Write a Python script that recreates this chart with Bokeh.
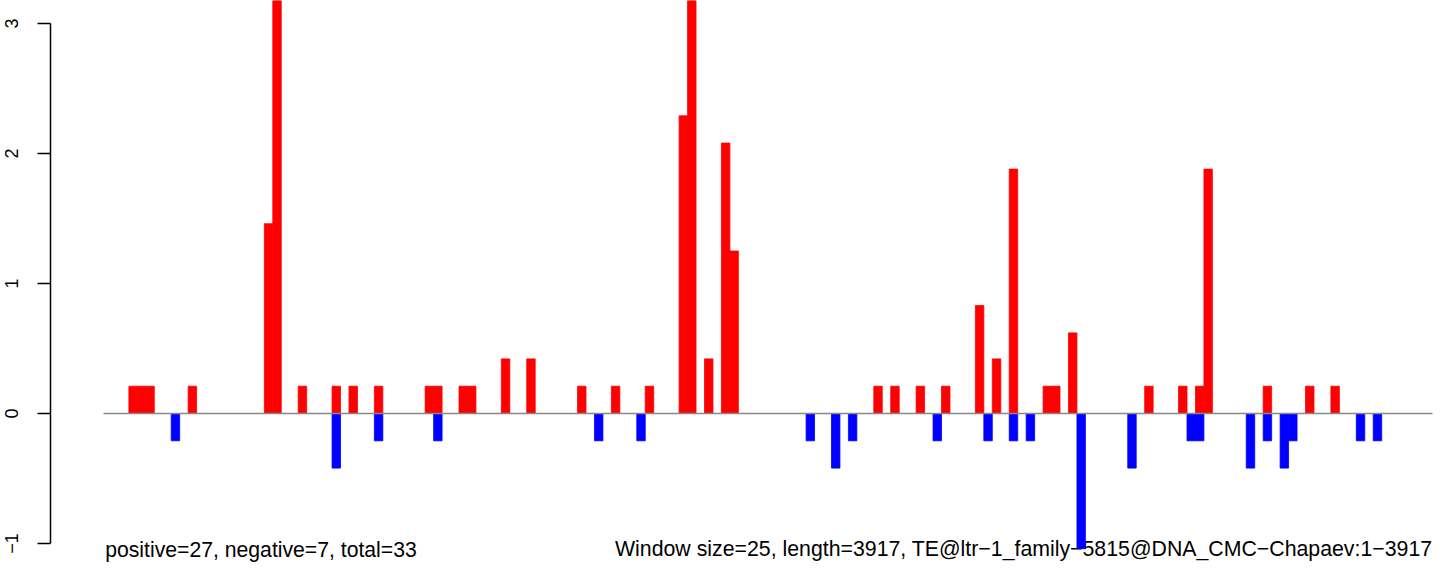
from bokeh.plotting import figure
from bokeh.models import ColumnDataSource, FixedTicker, Range1d
from bokeh.core.properties import value
from bokeh.embed import file_html
from bokeh.resources import INLINE

# window indices (window size 25 over length 3917 -> 157 windows)
n_windows = 157

pos_windows = [3, 4, 5, 10, 19, 20, 23, 27, 29, 32, 38, 39, 42, 43, 47, 50, 56, 60,
               64, 68, 69, 71, 73, 74, 91, 93, 96, 99, 103, 105, 107, 111, 112, 114,
               123, 127, 129, 130, 137, 142, 145]
pos_values = [0.21, 0.21, 0.21, 0.21, 1.46, 3.54, 0.21, 0.21, 0.21, 0.21, 0.21, 0.21,
              0.21, 0.21, 0.42, 0.42, 0.21, 0.21, 0.21, 2.29, 3.75, 0.42, 2.08, 1.25,
              0.21, 0.21, 0.21, 0.21, 0.83, 0.42, 1.88, 0.21, 0.21, 0.62, 0.21, 0.21,
              0.21, 1.88, 0.21, 0.21, 0.21]

neg_windows = [8, 27, 32, 39, 58, 63, 83, 86, 88, 98, 104, 107, 109, 115, 121, 128,
               129, 135, 137, 139, 140, 148, 150]
neg_values = [-0.21, -0.42, -0.21, -0.21, -0.21, -0.21, -0.21, -0.42, -0.21, -0.21,
              -0.21, -0.21, -0.21, -1.04, -0.42, -0.21, -0.21, -0.42, -0.21, -0.42,
              -0.21, -0.21, -0.21]

y_ticks = [-1, 0, 1, 2, 3]
left_note = "positive=27, negative=7, total=33"
right_note = "Window size=25, length=3917, TE@ltr\u22121_family\u22125815@DNA_CMC\u2212Chapaev:1\u22123917"

p = figure(width=1444, height=571, output_backend="svg", toolbar_location=None,
           x_range=Range1d(-6.261, 158.42), y_range=Range1d(-1.2154, 3.177),
           x_axis_location=None, min_border_left=50, min_border_right=0,
           min_border_top=0, min_border_bottom=0)
p.outline_line_color = None
p.xgrid.grid_line_color = None
p.ygrid.grid_line_color = None
p.background_fill_color = "white"

ax = p.yaxis[0]
ax.ticker = FixedTicker(ticks=y_ticks)
ax.bounds = (-1, 3)
ax.major_tick_in = 0
ax.major_tick_out = 13
ax.minor_tick_line_color = None
ax.axis_line_width = 1.5
ax.major_tick_line_width = 1.5
ax.axis_line_color = "black"
ax.major_tick_line_color = "black"
ax.major_label_orientation = "vertical"
ax.major_label_standoff = 19
ax.major_label_text_font = "Liberation Sans"
ax.major_label_text_font_size = "18px"
ax.major_label_text_color = "black"
ax.major_label_overrides = {-1: "\u22121"}

# notes (drawn beneath bars)
notes = ColumnDataSource(dict(x=[0.2], y=[-1.046], t=[left_note]))
p.text(x="x", y="y", text="t", source=notes, text_font=value("Liberation Sans"),
       text_font_size="21.2px", text_align="left", text_baseline="alphabetic",
       text_color="black")
notes_r = ColumnDataSource(dict(x=[n_windows], y=[-1.046], t=[right_note]))
p.text(x="x", y="y", text="t", source=notes_r, text_font=value("Liberation Sans"),
       text_font_size="21.3px", text_align="right", text_baseline="alphabetic",
       text_color="black")

pos_src = ColumnDataSource(dict(x=[w + 0.5 for w in pos_windows], top=pos_values))
neg_src = ColumnDataSource(dict(x=[w + 0.5 for w in neg_windows], top=neg_values))
p.vbar(x="x", top="top", bottom=0, width=1, source=pos_src,
       fill_color="#FF0000", line_color="#FF0000", line_width=0.8)
p.vbar(x="x", top="top", bottom=0, width=1, source=neg_src,
       fill_color="#0000FF", line_color="#0000FF", line_width=0.8)

# zero line
p.segment(x0=[0], y0=[0], x1=[n_windows], y1=[0], line_color="#888888", line_width=1.5)

open("out.html", "w").write(file_html(p, INLINE))
